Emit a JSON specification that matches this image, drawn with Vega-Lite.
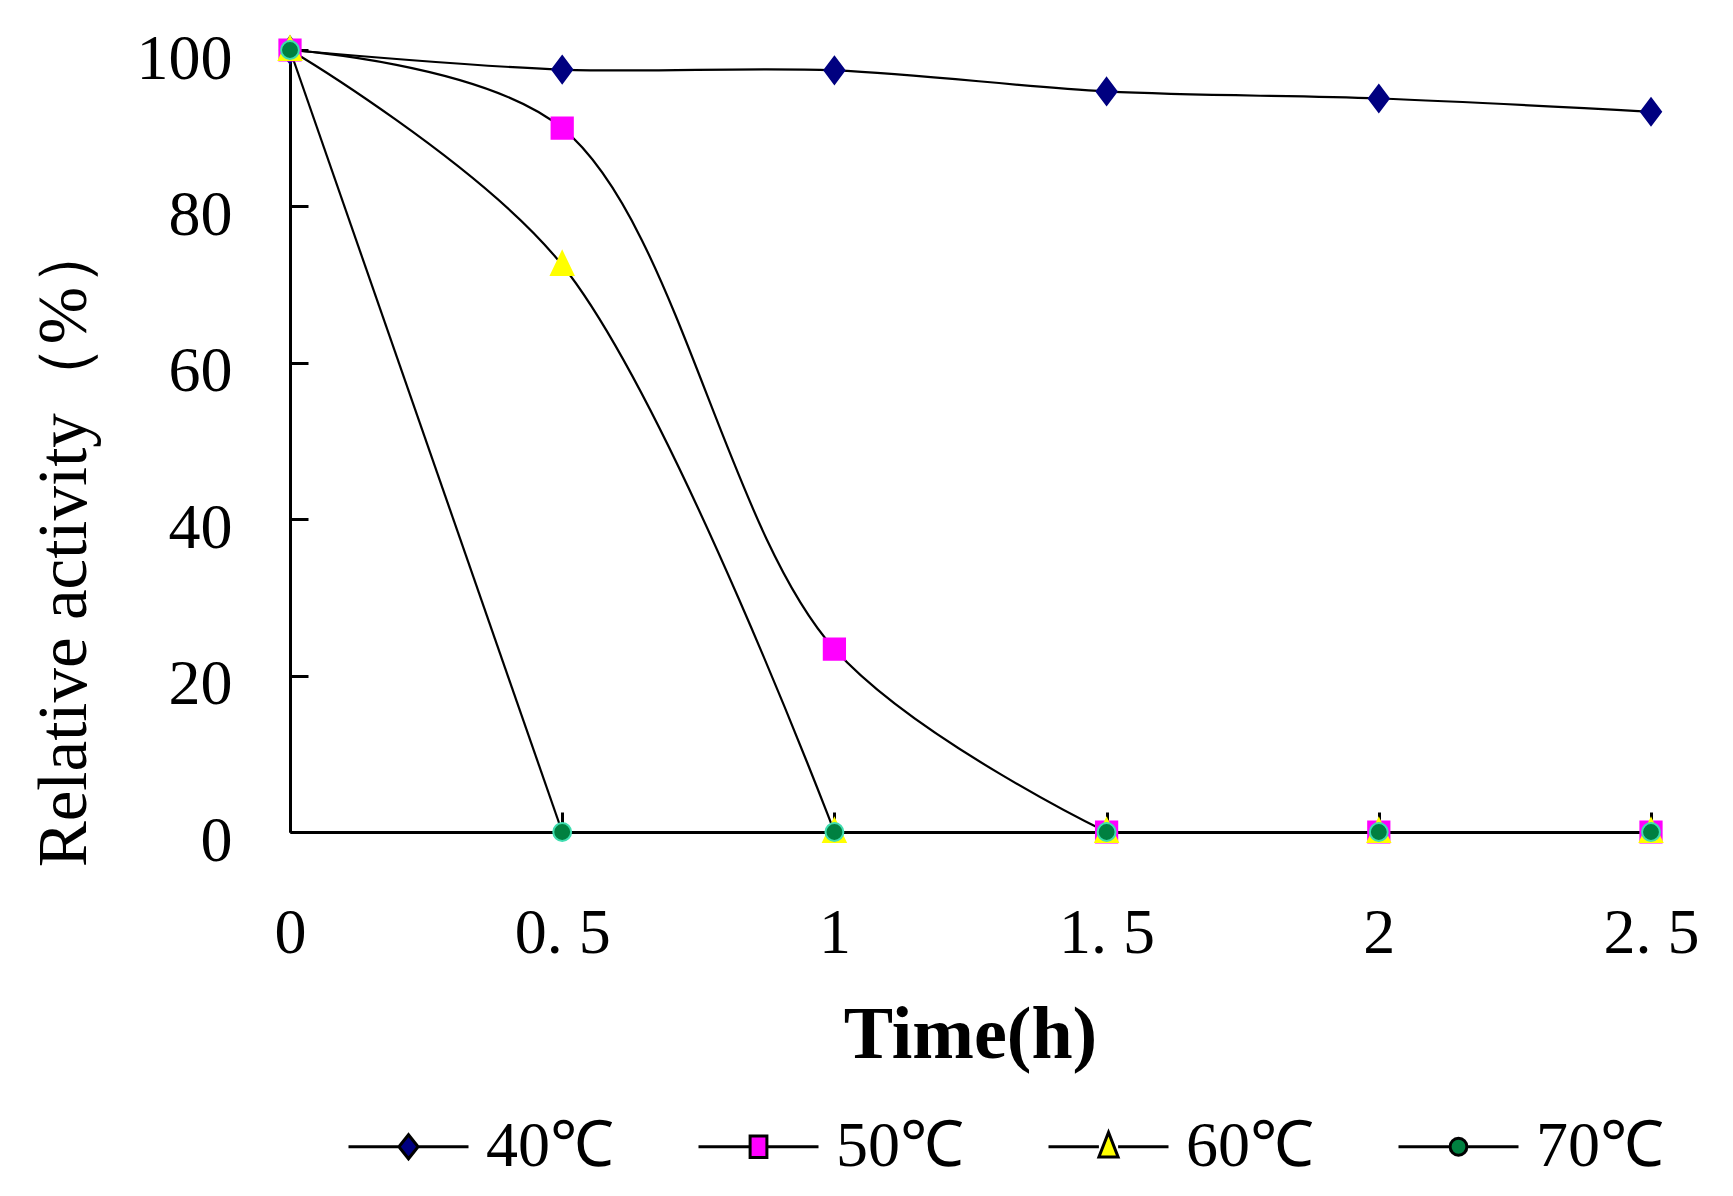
{
  "$schema": "https://vega.github.io/schema/vega-lite/v6.json",
  "width": 1361,
  "height": 782,
  "autosize": "none",
  "padding": {"left": 290, "top": 50, "right": 82, "bottom": 364},
  "config": {
    "view": {"stroke": null},
    "font": "Liberation Serif",
    "axis": {
      "grid": false,
      "domainColor": "black",
      "domainWidth": 3,
      "tickColor": "black",
      "tickWidth": 3,
      "labelColor": "black",
      "titleColor": "black",
      "labelFont": "Liberation Serif",
      "titleFont": "Liberation Serif",
      "labelFontSize": 64,
      "titleFontWeight": "normal"
    }
  },
  "data": {
    "values": [
      {"temp": "40℃", "time": 0, "activity": 100},
      {"temp": "40℃", "time": 0.5, "activity": 97.5},
      {"temp": "40℃", "time": 1, "activity": 97.4},
      {"temp": "40℃", "time": 1.5, "activity": 94.7},
      {"temp": "40℃", "time": 2, "activity": 93.8},
      {"temp": "40℃", "time": 2.5, "activity": 92.1},
      {"temp": "50℃", "time": 0, "activity": 100},
      {"temp": "50℃", "time": 0.5, "activity": 90},
      {"temp": "50℃", "time": 1, "activity": 23.4},
      {"temp": "50℃", "time": 1.5, "activity": 0},
      {"temp": "50℃", "time": 2, "activity": 0},
      {"temp": "50℃", "time": 2.5, "activity": 0},
      {"temp": "60℃", "time": 0, "activity": 100},
      {"temp": "60℃", "time": 0.5, "activity": 72.5},
      {"temp": "60℃", "time": 1, "activity": 0},
      {"temp": "60℃", "time": 1.5, "activity": 0},
      {"temp": "60℃", "time": 2, "activity": 0},
      {"temp": "60℃", "time": 2.5, "activity": 0},
      {"temp": "70℃", "time": 0, "activity": 100},
      {"temp": "70℃", "time": 0.5, "activity": 0},
      {"temp": "70℃", "time": 1, "activity": 0},
      {"temp": "70℃", "time": 1.5, "activity": 0},
      {"temp": "70℃", "time": 2, "activity": 0},
      {"temp": "70℃", "time": 2.5, "activity": 0}
    ]
  },
  "encoding": {
    "x": {
      "field": "time",
      "type": "quantitative",
      "scale": {"domain": [0, 2.5], "nice": false, "zero": false},
      "axis": {
        "values": [0, 0.5, 1, 1.5, 2, 2.5],
        "labelExpr": "replace(toString(datum.value), '.', '. ')",
        "labelFlush": false,
        "labelBaseline": "alphabetic",
        "labelPadding": 140,
        "tickSize": -20,
        "title": "Time(h)",
        "titleFontSize": 74,
        "titleFontWeight": "bold",
        "titleBaseline": "alphabetic",
        "titleAlign": "center",
        "titleX": 680,
        "titleY": 225
      }
    },
    "y": {
      "field": "activity",
      "type": "quantitative",
      "scale": {"domain": [0, 100], "nice": false},
      "axis": {
        "values": [0, 20, 40, 60, 80, 100],
        "labelBaseline": "middle",
        "labelOffset": 9,
        "labelPadding": 76,
        "tickSize": -18,
        "title": "Relative activity（%）",
        "titleFontSize": 69,
        "titleAngle": -90,
        "titleBaseline": "alphabetic",
        "titleAlign": "center",
        "titleX": -205,
        "titleY": 492
      }
    }
  },
  "layer": [
    {
      "transform": [
        {"window": [{"op": "lag", "field": "activity", "as": "prev"}], "groupby": ["temp"], "sort": [{"field": "time"}]},
        {"filter": "datum.activity > 0 || datum.prev > 0"}
      ],
      "mark": {"type": "line", "interpolate": "catmull-rom", "color": "black", "strokeWidth": 2.2},
      "encoding": {"detail": {"field": "temp", "type": "nominal"}}
    },
    {
      "mark": {"type": "point", "filled": true, "size": 500, "opacity": 1, "strokeWidth": 2},
      "encoding": {
        "shape": {
          "field": "temp",
          "type": "nominal",
          "scale": {
            "domain": ["40℃", "50℃", "60℃", "70℃"],
            "range": [
              "M0,-1.2L0.9,0L0,1.2L-0.9,0Z",
              "M-0.95,-0.95H0.95V0.95H-0.95Z",
              "M0,-1.2L1,0.9L-1,0.9Z",
              "M-0.8,0A0.8,0.8 0 1,0 0.8,0A0.8,0.8 0 1,0 -0.8,0Z"
            ]
          },
          "legend": null
        },
        "fill": {
          "field": "temp",
          "type": "nominal",
          "scale": {"domain": ["40℃", "50℃", "60℃", "70℃"], "range": ["#000080", "#FF00FF", "#FFFF00", "#008040"]},
          "legend": null
        },
        "stroke": {
          "field": "temp",
          "type": "nominal",
          "scale": {"domain": ["40℃", "50℃", "60℃", "70℃"], "range": ["#000080", "#FF00FF", "#FFFF00", "#40DDB0"]},
          "legend": null
        }
      }
    },
    {
      "transform": [{"filter": "false"}],
      "mark": {"type": "point", "filled": false},
      "encoding": {
        "shape": {
          "field": "temp",
          "type": "nominal",
          "scale": {
            "domain": ["40℃", "50℃", "60℃", "70℃"],
            "range": [
              "M-1,0H-0.16M0.16,0H1M0,-0.2L0.16,0L0,0.2L-0.16,0Z",
              "M-1,0H-0.15M0.15,0H1M-0.14,-0.18H0.14V0.18H-0.14Z",
              "M-1,0H-0.16M0.16,0H1M0,-0.24L0.16,0.17H-0.16Z",
              "M-1,0H-0.15M0.15,0H1M-0.14,0A0.14,0.14 0 1,0 0.14,0A0.14,0.14 0 1,0 -0.14,0Z"
            ]
          },
          "legend": {
            "orient": "none",
            "legendX": 57,
            "legendY": 1035,
            "direction": "horizontal",
            "columns": 4,
            "title": null,
            "padding": 0,
            "symbolSize": 14400,
            "symbolStrokeWidth": 3,
            "symbolOpacity": 1,
            "labelFont": "Liberation Serif",
            "labelFontSize": 64,
            "labelColor": "black",
            "labelOffset": 16,
            "columnPadding": 78
          }
        },
        "fill": {
          "field": "temp",
          "type": "nominal",
          "scale": {"domain": ["40℃", "50℃", "60℃", "70℃"], "range": ["#000080", "#FF00FF", "#FFFF00", "#008040"]},
          "legend": {
            "orient": "none",
            "legendX": 57,
            "legendY": 1035,
            "direction": "horizontal",
            "columns": 4,
            "title": null,
            "padding": 0,
            "symbolSize": 14400,
            "symbolStrokeWidth": 3,
            "symbolOpacity": 1,
            "labelFont": "Liberation Serif",
            "labelFontSize": 64,
            "labelColor": "black",
            "labelOffset": 16,
            "columnPadding": 78
          }
        },
        "stroke": {"value": "black"},
        "strokeWidth": {"value": 3}
      }
    }
  ],
  "resolve": {"scale": {"shape": "independent", "fill": "independent"}}
}
